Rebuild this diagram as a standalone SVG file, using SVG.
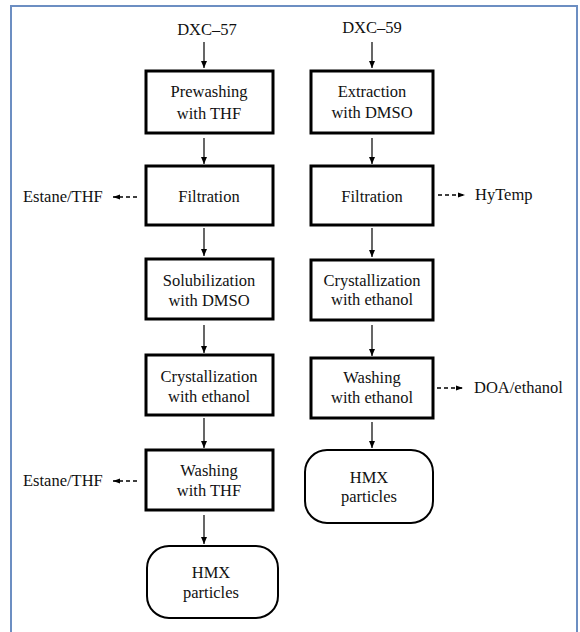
<svg xmlns="http://www.w3.org/2000/svg" width="580" height="632" viewBox="0 0 580 632">
<style>
text{font-family:'Liberation Serif','DejaVu Serif',serif;font-size:16.5px;fill:#111}
.t{text-anchor:middle}
.box{fill:#fff;stroke:#000;stroke-width:3}
.term{fill:#fff;stroke:#000;stroke-width:2}
.ar{stroke:#000;stroke-width:1.2;fill:none;marker-end:url(#ah)}
.da{stroke:#000;stroke-width:1.6;fill:none;stroke-dasharray:4 3;marker-end:url(#ah2)}
</style>
<defs>
<marker id="ah" markerWidth="8" markerHeight="8" refX="7" refY="4" orient="auto" markerUnits="userSpaceOnUse">
<path d="M0,1 L7,4 L0,7 Z" fill="#000"/>
</marker>
<marker id="ah2" markerWidth="8" markerHeight="8" refX="7" refY="4" orient="auto" markerUnits="userSpaceOnUse">
<path d="M0,1.5 L7,4 L0,6.5 Z" fill="#000"/>
</marker>
</defs>
<rect x="0" y="0" width="580" height="632" fill="#fff"/>
<path d="M11,640 V6 H577 V640" fill="none" stroke="#6c8ec2" stroke-width="2"/>

<g id="connectors">
<line class="ar" x1="204" y1="42" x2="204" y2="68"/>
<line class="ar" x1="204" y1="138" x2="204" y2="164"/>
<line class="ar" x1="204" y1="228" x2="204" y2="256"/>
<line class="ar" x1="204" y1="325" x2="204" y2="353"/>
<line class="ar" x1="204" y1="418" x2="204" y2="448"/>
<line class="ar" x1="204" y1="515" x2="204" y2="544"/>
<line class="da" x1="137" y1="197" x2="113" y2="197"/>
<line class="da" x1="137" y1="481" x2="113" y2="481"/>
<line class="ar" x1="372" y1="42" x2="372" y2="68"/>
<line class="ar" x1="372" y1="138" x2="372" y2="164"/>
<line class="ar" x1="372" y1="228" x2="372" y2="257"/>
<line class="ar" x1="372" y1="325" x2="372" y2="356"/>
<line class="ar" x1="372" y1="422" x2="372" y2="448"/>
<line class="da" x1="438" y1="195" x2="465" y2="195"/>
<line class="da" x1="437" y1="388" x2="463" y2="388"/>
</g>

<g id="src57"><text class="t" x="207" y="35" font-family="Liberation Serif, DejaVu Serif, serif">DXC–57</text></g>
<g id="prewash"><rect class="box" x="146" y="71" width="127" height="62"/>
<text class="t" x="209" y="97">Prewashing</text><text class="t" x="209" y="119">with THF</text></g>
<g id="filt1"><rect class="box" x="146" y="166" width="127" height="59"/>
<text class="t" x="209" y="202">Filtration</text></g>
<g id="estane1"><text x="23" y="202">Estane/THF</text></g>
<g id="solub"><rect class="box" x="146" y="259" width="127" height="60"/>
<text class="t" x="209" y="286">Solubilization</text><text class="t" x="209" y="306">with DMSO</text></g>
<g id="cryst1"><rect class="box" x="146" y="355" width="127" height="60"/>
<text class="t" x="209" y="382">Crystallization</text><text class="t" x="209" y="402">with ethanol</text></g>
<g id="wash1"><rect class="box" x="146" y="450" width="127" height="60"/>
<text class="t" x="209" y="476">Washing</text><text class="t" x="209" y="496">with THF</text></g>
<g id="estane2"><text x="23" y="486">Estane/THF</text></g>
<g id="hmx1"><rect class="term" x="147" y="546" width="131" height="72" rx="22" ry="22"/>
<text class="t" x="211" y="578">HMX</text><text class="t" x="211" y="598">particles</text></g>

<g id="src59"><text class="t" x="372" y="33">DXC–59</text></g>
<g id="extract"><rect class="box" x="311" y="71" width="122" height="62"/>
<text class="t" x="372" y="97">Extraction</text><text class="t" x="372" y="118">with DMSO</text></g>
<g id="filt2"><rect class="box" x="311" y="166" width="122" height="59"/>
<text class="t" x="372" y="202">Filtration</text></g>
<g id="hytemp"><text x="475" y="200">HyTemp</text></g>
<g id="cryst2"><rect class="box" x="311" y="260" width="122" height="60"/>
<text class="t" x="372" y="286">Crystallization</text><text class="t" x="372" y="305">with ethanol</text></g>
<g id="wash2"><rect class="box" x="311" y="358" width="122" height="60"/>
<text class="t" x="372" y="383">Washing</text><text class="t" x="372" y="403">with ethanol</text></g>
<g id="doa"><text x="474" y="393">DOA/ethanol</text></g>
<g id="hmx2"><rect class="term" x="305" y="450" width="128" height="73" rx="22" ry="22"/>
<text class="t" x="369" y="483">HMX</text><text class="t" x="369" y="502">particles</text></g>
</svg>
